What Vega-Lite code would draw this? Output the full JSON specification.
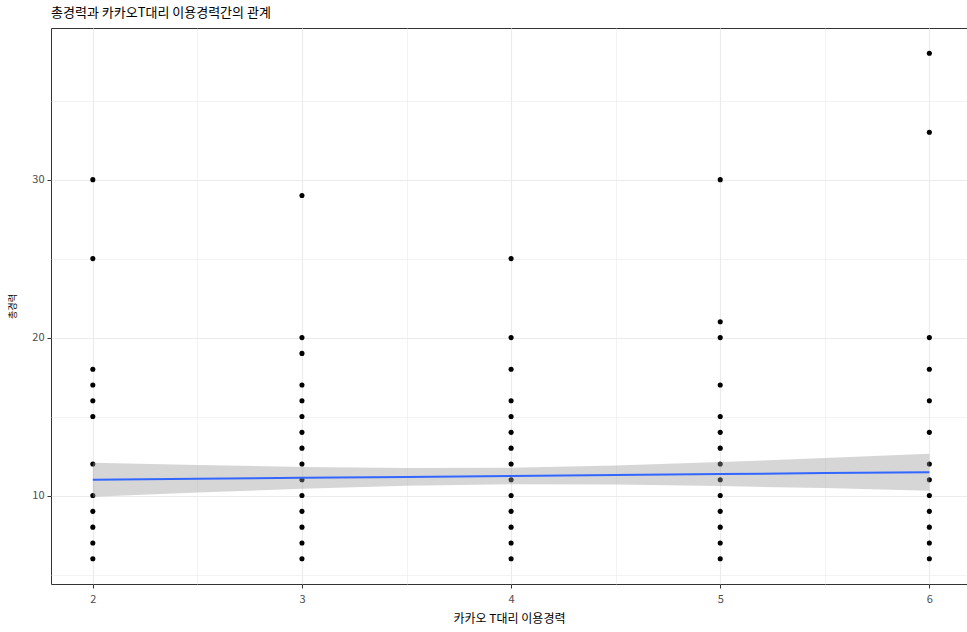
{
  "$schema": "https://vega.github.io/schema/vega-lite/v6.json",
  "width": 916,
  "height": 556,
  "autosize": "none",
  "padding": {"left": 51, "top": 28, "right": 0, "bottom": 48},
  "background": "white",
  "config": {
    "font": "Noto Sans CJK KR",
    "view": {"stroke": "#333333", "strokeWidth": 1}
  },
  "title": {
    "text": "총경력과 카카오T대리 이용경력간의 관계",
    "anchor": "start",
    "frame": "group",
    "fontSize": 13,
    "fontWeight": "normal",
    "color": "#000000",
    "offset": 8
  },
  "datasets": {
    "points": [
      {"kakao": 2, "total": 30}, {"kakao": 2, "total": 25}, {"kakao": 2, "total": 18}, {"kakao": 2, "total": 17},
      {"kakao": 2, "total": 16}, {"kakao": 2, "total": 15}, {"kakao": 2, "total": 12}, {"kakao": 2, "total": 10},
      {"kakao": 2, "total": 9}, {"kakao": 2, "total": 8}, {"kakao": 2, "total": 7}, {"kakao": 2, "total": 6},
      {"kakao": 3, "total": 29}, {"kakao": 3, "total": 20}, {"kakao": 3, "total": 19}, {"kakao": 3, "total": 17},
      {"kakao": 3, "total": 16}, {"kakao": 3, "total": 15}, {"kakao": 3, "total": 14}, {"kakao": 3, "total": 13},
      {"kakao": 3, "total": 12}, {"kakao": 3, "total": 11}, {"kakao": 3, "total": 10}, {"kakao": 3, "total": 9},
      {"kakao": 3, "total": 8}, {"kakao": 3, "total": 7}, {"kakao": 3, "total": 6},
      {"kakao": 4, "total": 25}, {"kakao": 4, "total": 20}, {"kakao": 4, "total": 18}, {"kakao": 4, "total": 16},
      {"kakao": 4, "total": 15}, {"kakao": 4, "total": 14}, {"kakao": 4, "total": 13}, {"kakao": 4, "total": 12},
      {"kakao": 4, "total": 11}, {"kakao": 4, "total": 10}, {"kakao": 4, "total": 9}, {"kakao": 4, "total": 8},
      {"kakao": 4, "total": 7}, {"kakao": 4, "total": 6},
      {"kakao": 5, "total": 30}, {"kakao": 5, "total": 21}, {"kakao": 5, "total": 20}, {"kakao": 5, "total": 17},
      {"kakao": 5, "total": 15}, {"kakao": 5, "total": 14}, {"kakao": 5, "total": 13}, {"kakao": 5, "total": 12},
      {"kakao": 5, "total": 11}, {"kakao": 5, "total": 10}, {"kakao": 5, "total": 9}, {"kakao": 5, "total": 8},
      {"kakao": 5, "total": 7}, {"kakao": 5, "total": 6},
      {"kakao": 6, "total": 38}, {"kakao": 6, "total": 33}, {"kakao": 6, "total": 20}, {"kakao": 6, "total": 18},
      {"kakao": 6, "total": 16}, {"kakao": 6, "total": 14}, {"kakao": 6, "total": 12}, {"kakao": 6, "total": 11},
      {"kakao": 6, "total": 10}, {"kakao": 6, "total": 9}, {"kakao": 6, "total": 8}, {"kakao": 6, "total": 7},
      {"kakao": 6, "total": 6}
    ],
    "fit": [
      {"kakao": 2, "fit": 11.0, "lo": 9.92, "hi": 12.08},
      {"kakao": 2.5, "fit": 11.06, "lo": 10.19, "hi": 11.93},
      {"kakao": 3, "fit": 11.12, "lo": 10.43, "hi": 11.81},
      {"kakao": 3.5, "fit": 11.18, "lo": 10.62, "hi": 11.74},
      {"kakao": 4, "fit": 11.24, "lo": 10.72, "hi": 11.76},
      {"kakao": 4.5, "fit": 11.3, "lo": 10.7, "hi": 11.9},
      {"kakao": 5, "fit": 11.36, "lo": 10.6, "hi": 12.12},
      {"kakao": 5.5, "fit": 11.42, "lo": 10.47, "hi": 12.37},
      {"kakao": 6, "fit": 11.48, "lo": 10.31, "hi": 12.65}
    ]
  },
  "encoding": {
    "x": {
      "field": "kakao",
      "type": "quantitative",
      "scale": {"domain": [1.8, 6.18], "nice": false, "zero": false},
      "axis": {
        "values": [2, 2.5, 3, 3.5, 4, 4.5, 5, 5.5, 6],
        "title": "카카오 T대리 이용경력",
        "labelExpr": "datum.value % 1 === 0 ? format(datum.value, 'd') : ''",
        "domain": false,
        "gridColor": "#ebebeb",
        "gridWidth": {"condition": {"test": "datum.value % 1 === 0", "value": 1.1}, "value": 0.6},
        "tickOpacity": {"condition": {"test": "datum.value % 1 === 0", "value": 1}, "value": 0},
        "tickColor": "#333333",
        "tickSize": 4,
        "labelColor": "#4d4d4d",
        "labelFontSize": 11,
        "labelPadding": 5,
        "titleFontSize": 12,
        "titleFontWeight": "normal",
        "titleColor": "#000000",
        "titlePadding": 9
      }
    }
  },
  "layer": [
    {
      "data": {"name": "points"},
      "mark": {"type": "circle", "size": 26, "color": "#000000", "opacity": 1},
      "encoding": {
        "y": {
          "field": "total",
          "type": "quantitative",
          "scale": {"domain": [4.4, 39.6], "nice": false, "zero": false},
          "axis": {
            "values": [5, 10, 15, 20, 25, 30, 35],
            "title": "총경력",
            "labelExpr": "datum.value % 10 === 0 ? format(datum.value, 'd') : ''",
            "domain": false,
            "gridColor": "#ebebeb",
            "gridWidth": {"condition": {"test": "datum.value % 10 === 0", "value": 1.1}, "value": 0.6},
            "tickOpacity": {"condition": {"test": "datum.value % 10 === 0", "value": 1}, "value": 0},
            "tickColor": "#333333",
            "tickSize": 4,
            "labelColor": "#4d4d4d",
            "labelFontSize": 11,
            "labelPadding": 3,
            "titleFontSize": 9,
            "titleFontWeight": "normal",
            "titleColor": "#000000",
            "titlePadding": 14
          }
        }
      }
    },
    {
      "data": {"name": "fit"},
      "mark": {"type": "area", "color": "#999999", "opacity": 0.4},
      "encoding": {
        "y": {"field": "lo", "type": "quantitative"},
        "y2": {"field": "hi"}
      }
    },
    {
      "data": {"name": "fit"},
      "mark": {"type": "line", "color": "#3366FF", "strokeWidth": 2},
      "encoding": {
        "y": {"field": "fit", "type": "quantitative"}
      }
    }
  ]
}
